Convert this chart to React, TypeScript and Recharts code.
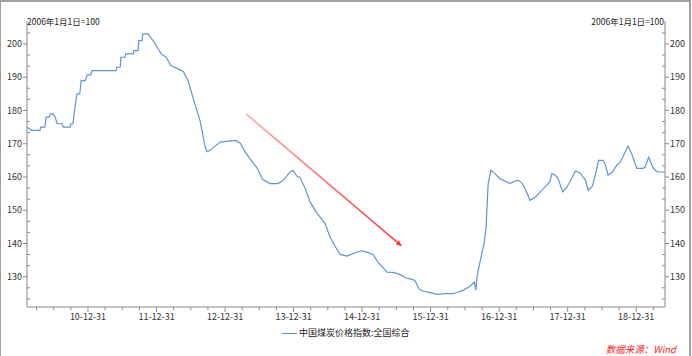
import React from 'react';
import { LineChart, Line, XAxis, YAxis, CartesianGrid, ReferenceLine } from 'recharts';

// time in decimal years
const times = [
  2010.11, 2010.17, 2010.30, 2010.31, 2010.37, 2010.39, 2010.43, 2010.45, 2010.49, 2010.52,
  2010.55, 2010.62, 2010.64, 2010.74, 2010.75, 2010.78, 2010.81, 2010.84, 2010.88, 2010.90,
  2010.96, 2010.99, 2011.04, 2011.06, 2011.41, 2011.42, 2011.47, 2011.48, 2011.54, 2011.55,
  2011.66, 2011.67, 2011.73, 2011.74, 2011.79, 2011.80, 2011.88, 2011.91, 2011.95, 2012.01,
  2012.07, 2012.14, 2012.21, 2012.31, 2012.39, 2012.46, 2012.53, 2012.59, 2012.64, 2012.71,
  2012.74, 2012.78, 2012.93, 2013.15, 2013.22, 2013.29, 2013.36, 2013.47, 2013.55, 2013.66,
  2013.77, 2013.85, 2013.95, 2013.99, 2014.05, 2014.09, 2014.17, 2014.24, 2014.34, 2014.46,
  2014.53, 2014.61, 2014.68, 2014.78, 2014.90, 2014.99, 2015.07, 2015.16, 2015.23, 2015.34,
  2015.36, 2015.45, 2015.55, 2015.63, 2015.73, 2015.77, 2015.83, 2015.88, 2015.99, 2016.09,
  2016.21, 2016.33, 2016.40, 2016.47, 2016.58, 2016.64, 2016.66, 2016.68, 2016.72, 2016.78,
  2016.81, 2016.82, 2016.84, 2016.88, 2016.94, 2017.01, 2017.09, 2017.16, 2017.23, 2017.28,
  2017.34, 2017.41, 2017.45, 2017.53, 2017.60, 2017.67, 2017.74, 2017.77, 2017.82, 2017.86,
  2017.91, 2017.93, 2017.99, 2018.07, 2018.11, 2018.18, 2018.26, 2018.30, 2018.36, 2018.42,
  2018.45, 2018.52, 2018.55, 2018.59, 2018.65, 2018.72, 2018.77, 2018.84, 2018.88, 2018.94,
  2018.99, 2019.01, 2019.10, 2019.13, 2019.18, 2019.20, 2019.25, 2019.31, 2019.42,
];

const coalIndex = [
  175, 174, 174, 175, 175, 178, 178, 179, 179, 178,
  176, 176, 175, 175, 176, 176, 181, 185, 185, 189,
  189, 190.7, 190.7, 192, 192, 193, 193, 196, 196, 197,
  197, 198, 198, 201, 201, 203, 203, 202, 201, 199,
  197, 196, 193.5, 192.5, 191.7, 189, 184, 180, 176.5, 169,
  167.6, 168, 170.5, 171, 170.2, 167.6, 165.6, 162.6, 159.2, 158,
  158, 159, 161.5, 162, 160.2, 159.9, 156.5, 152.5, 149.2, 146,
  142, 139, 136.7, 136.2, 137.2, 137.8, 137.4, 136.7, 134.4, 131.9,
  131.4, 131.3, 130.7, 129.7, 129.2, 128.9, 126.4, 125.7, 125.2, 124.7,
  124.9, 124.9, 125.4, 125.9, 127.2, 128.4, 126, 130.4, 134.4, 140,
  145, 150, 158, 162, 161, 159.5, 158.7, 158, 158.8, 159,
  158, 155, 153, 154, 155.5, 157, 158.5, 161, 160.5, 159.5,
  156.5, 155.5, 157, 160, 161.8, 161.2, 159, 156, 157.2, 162,
  165, 165, 163.6, 160.5, 161.5, 163.6, 164.5, 167.6, 169.3, 166.6,
  163.6, 162.6, 162.6, 163, 165.9, 165, 162.6, 161.5, 161.5,
];

const yMajorTicks = [130, 140, 150, 160, 170, 180, 190, 200];
const yAllTicks = [
  123.33, 126.67, 130, 133.33, 136.67, 140, 143.33, 146.67, 150, 153.33, 156.67, 160,
  163.33, 166.67, 170, 173.33, 176.67, 180, 183.33, 186.67, 190, 193.33, 196.67, 200, 203.33,
];
const xMajorTicks = [2011, 2012, 2013, 2014, 2015, 2016, 2017, 2018, 2019];
const xAllTicks = [
  2010.25, 2010.5, 2010.75, 2011, 2011.25, 2011.5, 2011.75, 2012, 2012.25, 2012.5, 2012.75,
  2013, 2013.25, 2013.5, 2013.75, 2014, 2014.25, 2014.5, 2014.75, 2015, 2015.25, 2015.5,
  2015.75, 2016, 2016.25, 2016.5, 2016.75, 2017, 2017.25, 2017.5, 2017.75, 2018, 2018.25,
  2018.5, 2018.75, 2019, 2019.25,
];

const arrowStart = { x: 2013.31, y: 178.9 };
const arrowEnd = { x: 2015.58, y: 139.2 };

const seriesName = '中国煤炭价格指数:全国综合';
const baseLabel = '2006年1月1日=100';
const sourceText = '数据来源：Wind';

const data = times.map((t, i) => ({ t, v: coalIndex[i] }));

const FONT = '"Noto Sans CJK SC", "Noto Sans", sans-serif';
const AXIS = '#8a8a8a';
const TEXT = '#333';
const LINE = '#6392d4';

const LeftTick = (props: any) => {
  const { x, y, payload } = props;
  const v = payload.value;
  if (yMajorTicks.includes(v)) {
    return (
      <g>
        <line x1={x - 4} x2={x} y1={y} y2={y} stroke={AXIS} />
        <text x={x - 5} y={y} dy={3.2} textAnchor="end" fontSize={9} fill={TEXT} fontFamily={FONT}>{v}</text>
      </g>
    );
  }
  return <line x1={x} x2={x + 3} y1={y} y2={y} stroke={AXIS} />;
};

const RightTick = (props: any) => {
  const { x, y, payload } = props;
  const v = payload.value;
  if (yMajorTicks.includes(v)) {
    return (
      <g>
        <line x1={x} x2={x + 4} y1={y} y2={y} stroke={AXIS} />
        <text x={x + 5} y={y} dy={3.2} textAnchor="start" fontSize={9} fill={TEXT} fontFamily={FONT}>{v}</text>
      </g>
    );
  }
  return <line x1={x - 3} x2={x} y1={y} y2={y} stroke={AXIS} />;
};

const BottomTick = (props: any) => {
  const { x, y, payload } = props;
  const v = payload.value;
  const major = xMajorTicks.some((m) => Math.abs(m - v) < 0.001);
  if (major) {
    const label = `${String(Math.round(v) - 1).slice(2)}-12-31`;
    return (
      <g>
        <line x1={x} x2={x} y1={y} y2={y + 5} stroke={AXIS} />
        <text x={x} y={y + 13} textAnchor="middle" fontSize={9} fill={TEXT} fontFamily={FONT}>{label}</text>
      </g>
    );
  }
  return <line x1={x} x2={x} y1={y} y2={y + 3} stroke={AXIS} />;
};

const ArrowShape = (props: any) => {
  const { x1, y1, x2, y2 } = props;
  if ([x1, y1, x2, y2].some((n) => typeof n !== 'number' || isNaN(n))) return null;
  const ang = Math.atan2(y2 - y1, x2 - x1);
  const len = 6;
  const w = 2.5;
  const bx = x2 - len * Math.cos(ang);
  const by = y2 - len * Math.sin(ang);
  const px = -Math.sin(ang) * w;
  const py = Math.cos(ang) * w;
  return (
    <g>
      <defs>
        <linearGradient id="arrowGrad" gradientUnits="userSpaceOnUse" x1={x1} y1={y1} x2={x2} y2={y2}>
          <stop offset="0%" stopColor="#ffb0b0" />
          <stop offset="100%" stopColor="#ff2a2a" />
        </linearGradient>
      </defs>
      <line x1={x1} y1={y1} x2={bx} y2={by} stroke="url(#arrowGrad)" strokeWidth={1.6} />
      <polygon points={`${x2},${y2} ${bx + px},${by + py} ${bx - px},${by - py}`} fill="#ff2a2a" />
    </g>
  );
};

export default function App() {
  return (
    <div style={{ position: 'absolute', left: 0, top: 0, width: 692, height: 356, background: '#fff', fontFamily: FONT }}>
      <LineChart width={692} height={356} data={data} margin={{ top: 21, right: 0, bottom: 29, left: 0 }}>
        <CartesianGrid horizontal vertical={false} stroke="#efefef" horizontalValues={yMajorTicks} />
        <XAxis
          dataKey="t"
          type="number"
          domain={[2010.11, 2019.42]}
          allowDataOverflow
          ticks={xAllTicks}
          interval={0}
          tickSize={0}
          tickMargin={0}
          tickLine={false}
          tick={<BottomTick />}
          height={20}
          stroke={AXIS}
        />
        <YAxis
          yAxisId="left"
          orientation="left"
          type="number"
          domain={[120.9, 206.9]}
          allowDataOverflow
          ticks={yAllTicks}
          interval={0}
          tickSize={0}
          tickMargin={0}
          tickLine={false}
          tick={<LeftTick />}
          width={27}
          stroke={AXIS}
        />
        <YAxis
          yAxisId="right"
          orientation="right"
          type="number"
          domain={[120.9, 206.9]}
          allowDataOverflow
          ticks={yAllTicks}
          interval={0}
          tickSize={0}
          tickMargin={0}
          tickLine={false}
          tick={<RightTick />}
          width={27}
          stroke={AXIS}
        />
        <Line
          yAxisId="left"
          type="linear"
          dataKey="v"
          stroke={LINE}
          strokeWidth={1.2}
          dot={false}
          isAnimationActive={false}
        />
        <ReferenceLine
          yAxisId="left"
          segment={[arrowStart, arrowEnd]}
          ifOverflow="visible"
          shape={(p: any) => <ArrowShape {...p} />}
        />
      </LineChart>
      {/* frame */}
      <div style={{ position: 'absolute', left: 0, top: 0, width: 688, height: 356, borderTop: '2px solid #a0a0a0', borderLeft: '1px solid #a0a0a0', borderRight: '2px solid #a0a0a0', pointerEvents: 'none' }} />
      {/* axis unit labels */}
      <div style={{ position: 'absolute', left: 27, top: 15, fontSize: 8.5, color: '#222', whiteSpace: 'nowrap', lineHeight: '12px' }}>{baseLabel}</div>
      <div style={{ position: 'absolute', right: 692 - 664, top: 15, fontSize: 8.5, color: '#222', whiteSpace: 'nowrap', lineHeight: '12px' }}>{baseLabel}</div>
      {/* legend */}
      <div style={{ position: 'absolute', left: 282, top: 327, display: 'flex', alignItems: 'center', whiteSpace: 'nowrap', lineHeight: '12px' }}>
        <div style={{ width: 15, height: 1, background: LINE, marginRight: 2 }} />
        <span style={{ fontSize: 9, color: '#222' }}>{seriesName}</span>
      </div>
      {/* source */}
      <div style={{ position: 'absolute', right: 16, top: 343, fontSize: 9.5, color: '#ff2020', fontStyle: 'italic', whiteSpace: 'nowrap', lineHeight: '12px' }}>{sourceText}</div>
    </div>
  );
}
